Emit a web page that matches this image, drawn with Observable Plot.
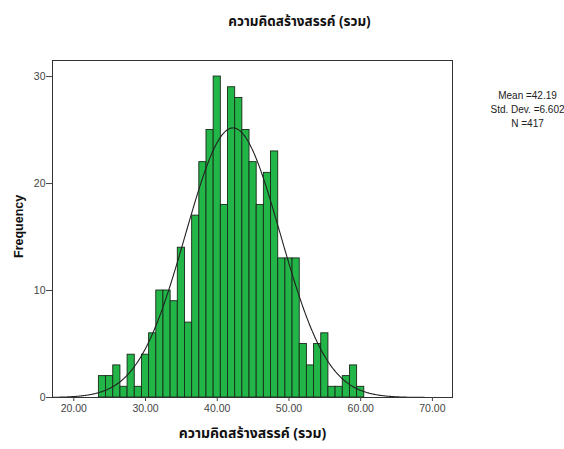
<!DOCTYPE html>
<html>
<head>
<meta charset="utf-8">
<script src="https://cdn.jsdelivr.net/npm/d3@7"></script>
<script src="https://cdn.jsdelivr.net/npm/@observablehq/plot@0.6"></script>
<style>
  html, body { margin: 0; padding: 0; background: #fff; }
  #chart svg { display: block; }
</style>
</head>
<body>
<div id="chart"></div>
<script>
// Data (bin width 1, centred on integers)
const binCenters = [24,25,26,27,28,29,30,31,32,33,34,35,36,37,38,39,40,41,42,43,44,45,46,47,48,49,50,51,52,53,54,55,56,57,58,59,60];
const counts     = [ 2, 2, 3, 1, 4, 1, 4, 6,10,10, 9,14, 7,17,22,25,30,18,29,28,25,22,18,21,23,13,13,13, 5, 3, 5, 6, 1, 1, 2, 3, 1];
const xTicks = [20, 30, 40, 50, 60, 70];
const yTicks = [0, 10, 20, 30];
const statLines = ["Mean =42.19", "Std. Dev. =6.602", "N =417"];
const mean = 42.19, sd = 6.602, n = 417, binWidth = 1;
const titleText = "ความคิดสร้างสรรค์ (รวม)";
const yLabel = "Frequency";

const bars = binCenters.map((c, i) => ({x1: c - binWidth / 2, x2: c + binWidth / 2, count: counts[i]}));
// Fitted normal curve defined by the stated mean / sd / N
const curveXs = d3.range(17.03, 72.8, 0.1);
const curve = curveXs.map(x => ({x, y: n * binWidth / (sd * Math.sqrt(2 * Math.PI)) * Math.exp(-0.5 * ((x - mean) / sd) ** 2)}));

const font = "Tahoma, 'Noto Sans Thai', 'Liberation Sans', Arial, sans-serif";

const statMarks = statLines.map((s, i) =>
  Plot.text([s], {frameAnchor: "top-right", dx: 75, dy: 31 + i * 14, textAnchor: "middle", fontSize: 10, fill: "#222"})
);

const chart = Plot.plot({
  width: 564,
  height: 449,
  marginLeft: 52,
  marginRight: 112,
  marginTop: 60,
  marginBottom: 52,
  style: {fontFamily: "'Liberation Sans', Arial, sans-serif", background: "#fff"},
  x: {domain: [17.03, 72.8]},
  y: {domain: [0, 31.5]},
  marks: [
    Plot.rectY(bars, {x1: "x1", x2: "x2", y: "count", fill: "#22b548", stroke: "#1a2a1a", strokeWidth: 0.9}),
    Plot.line(curve, {x: "x", y: "y", stroke: "#222", strokeWidth: 1.1}),
    Plot.frame({stroke: "#333", strokeWidth: 1}),
    Plot.axisX({ticks: xTicks, tickFormat: d3.format(".2f"), tickSize: 4, tickPadding: 3, fontSize: 10.5, color: "#444", label: null}),
    Plot.axisY({ticks: yTicks, tickSize: 6, tickPadding: 1, fontSize: 10.5, color: "#444", label: null}),
    Plot.text([titleText], {frameAnchor: "top", dx: 47, dy: -44, fontSize: 13.5, fontWeight: "bold", fill: "#111", fontFamily: font}),
    Plot.text([titleText], {frameAnchor: "bottom", dy: 40, fontSize: 14, fontWeight: "bold", fill: "#111", fontFamily: font}),
    Plot.text([yLabel], {frameAnchor: "left", dx: -34, dy: 29, rotate: -90, fontSize: 12.5, fontWeight: "bold", fill: "#111"}),
    ...statMarks
  ]
});
document.getElementById("chart").appendChild(chart);
</script>
</body>
</html>
